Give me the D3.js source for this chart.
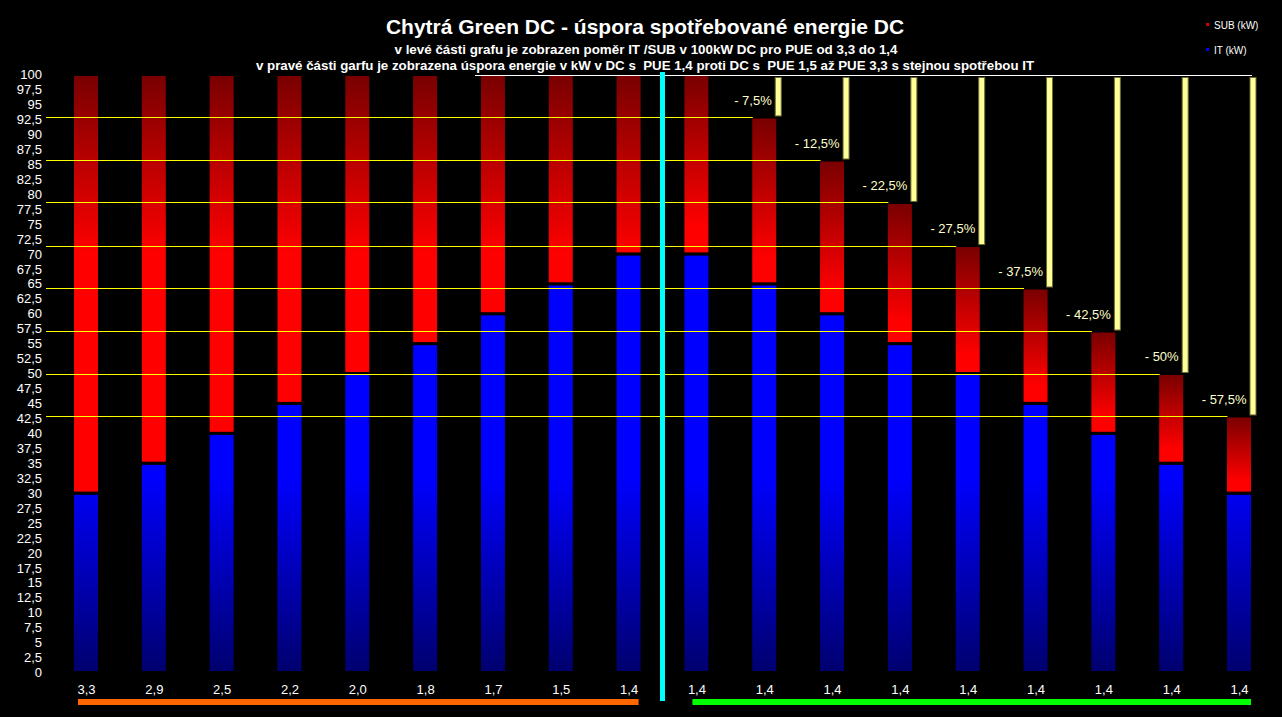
<!DOCTYPE html>
<html>
<head>
<meta charset="utf-8">
<script src="https://cdn.jsdelivr.net/npm/d3@7"></script>
<style>
html,body{margin:0;padding:0;background:#000;}
svg{display:block;}
text{font-family:Arial,"Liberation Sans",sans-serif;}
</style>
</head>
<body>
<svg id="chart" width="1282" height="717"></svg>
<script>
// ---- data ----
const categories = ["3,3","2,9","2,5","2,2","2,0","1,8","1,7","1,5","1,4","1,4","1,4","1,4","1,4","1,4","1,4","1,4","1,4","1,4"];
const itValues  = [30,35,40,45,50,55,60,65,70, 70,65,60,55,50,45,40,35,30];
const subValues = [70,65,60,55,50,45,40,35,30, 30,27.9,25.7,23.6,21.4,19.3,17.1,15,12.9];
const savingLabels = ["","","","","","","","","","","- 7,5%","- 12,5%","- 22,5%","- 27,5%","- 37,5%","- 42,5%","- 50%","- 57,5%"];
const yTickValues = [0,2.5,5,7.5,10,12.5,15,17.5,20,22.5,25,27.5,30,32.5,35,37.5,40,42.5,45,47.5,50,52.5,55,57.5,60,62.5,65,67.5,70,72.5,75,77.5,80,82.5,85,87.5,90,92.5,95,97.5,100];
const titleText = "Chytrá Green DC - úspora spotřebované energie DC";
const subtitle1 = "v levé části grafu je zobrazen poměr IT /SUB v 100kW DC pro PUE od 3,3 do 1,4";
const subtitle2 = "v pravé části garfu je zobrazena úspora energie v kW v DC s  PUE 1,4 proti DC s  PUE 1,5 až PUE 3,3 s stejnou spotřebou IT";
const legendItems = [{name:"SUB (kW)", color:"#cc0000"},{name:"IT (kW)", color:"#0000ff"}];
const splitIndex = 9; // first bar of the right part

// ---- layout ----
const svg = d3.select("#chart");
svg.append("rect").attr("width",1282).attr("height",717).attr("fill","#000");

const idx = d3.range(categories.length);
const x = d3.scalePoint().domain(idx).range([86, 1239]);
const y = d3.scaleLinear().domain([0,100]).range([672.5, 74.5]);
const barW = 27;

const defs = svg.append("defs");
const gBlue = defs.append("linearGradient").attr("id","gBlue")
  .attr("gradientUnits","userSpaceOnUse").attr("x1",0).attr("x2",0).attr("y1",y(33)).attr("y2",y(0));
gBlue.append("stop").attr("offset",0).attr("stop-color","#0000ff");
gBlue.append("stop").attr("offset",1).attr("stop-color","#00006e");

const gRedL = defs.append("linearGradient").attr("id","gRedL")
  .attr("gradientUnits","userSpaceOnUse").attr("x1",0).attr("x2",0).attr("y1",y(100)).attr("y2",y(70));
gRedL.append("stop").attr("offset",0).attr("stop-color","#780000");
gRedL.append("stop").attr("offset",1).attr("stop-color","#ff0000");

const gRedR = defs.append("linearGradient").attr("id","gRedR")
  .attr("x1",0).attr("x2",0).attr("y1",0).attr("y2",1);
gRedR.append("stop").attr("offset",0).attr("stop-color","#780000");
gRedR.append("stop").attr("offset",0.85).attr("stop-color","#ff0000");
gRedR.append("stop").attr("offset",1).attr("stop-color","#ff0000");

// bars
const bars = svg.append("g");
bars.selectAll("rect.it").data(idx).join("rect").attr("class","it")
  .attr("x", i => x(i)-barW/2).attr("width", barW)
  .attr("y", i => y(itValues[i])).attr("height", i => y(0)-y(itValues[i]))
  .attr("fill","url(#gBlue)").attr("stroke","#000").attr("stroke-width",3);
bars.selectAll("rect.sub").data(idx).join("rect").attr("class","sub")
  .attr("x", i => x(i)-barW/2).attr("width", barW)
  .attr("y", i => y(itValues[i]+subValues[i])).attr("height", i => y(itValues[i])-y(itValues[i]+subValues[i]))
  .attr("fill", i => i < splitIndex ? "url(#gRedL)" : "url(#gRedR)")
  .attr("stroke","#000").attr("stroke-width",3);

// reference lines at the right-part bar tops
const rightIdx = idx.filter(i => i > splitIndex);
svg.append("g").selectAll("line").data(rightIdx).join("line")
  .attr("x1", 46).attr("x2", i => x(i)-barW/2+2)
  .attr("y1", i => Math.round(y(itValues[i]+subValues[i]))+0.5)
  .attr("y2", i => Math.round(y(itValues[i]+subValues[i]))+0.5)
  .attr("stroke","#ffff00").attr("stroke-width",1);
// top white line
svg.append("line").attr("x1",475).attr("x2", x(categories.length-1)+13)
  .attr("y1", Math.round(y(100))+0.5).attr("y2", Math.round(y(100))+0.5)
  .attr("stroke","#ffffff").attr("stroke-width",1);

// saving bars (yellow) and labels
const sav = svg.append("g");
sav.selectAll("rect").data(rightIdx).join("rect")
  .attr("x", i => x(i)+barW/2-2.5).attr("width",6)
  .attr("y", y(100)+3).attr("height", i => y(itValues[i]+subValues[i]) - y(100) - 4)
  .attr("fill","#ffff99").attr("stroke","#6b6b35").attr("stroke-width",1);
sav.selectAll("text").data(rightIdx).join("text")
  .attr("x", i => x(i)+barW/2-6).attr("y", i => y(itValues[i]+subValues[i]) - 17)
  .attr("dy","0.35em").attr("text-anchor","end")
  .attr("fill","#ffffcc").attr("font-size",13)
  .text(i => savingLabels[i]);

// divider
svg.append("rect").attr("x", (x(splitIndex-1)+x(splitIndex))/2 - 2.5).attr("width",5)
  .attr("y",72).attr("height",629).attr("fill","#00ffff");

// bottom colored lines
svg.append("rect").attr("x", x(0)-8).attr("width", x(splitIndex-1)+10-(x(0)-8))
  .attr("y",699).attr("height",6).attr("fill","#ff6600");
svg.append("rect").attr("x", x(splitIndex)-4).attr("width", x(categories.length-1)+12-(x(splitIndex)-4))
  .attr("y",699).attr("height",6).attr("fill","#00ff00");

// axes
const yAxis = d3.axisLeft(y).tickValues(yTickValues).tickSize(0).tickPadding(4)
  .tickFormat(d => String(d).replace(".", ","));
const gy = svg.append("g").attr("transform","translate(46,0)").call(yAxis);
gy.select(".domain").remove();
gy.selectAll("text").attr("fill","#fff").attr("font-size",13).attr("font-family","Arial, 'Liberation Sans', sans-serif");

const xAxis = d3.axisBottom(x).tickSize(0).tickPadding(0).tickFormat(i => categories[i]);
const gx = svg.append("g").attr("transform","translate(0,685)").call(xAxis);
gx.select(".domain").remove();
gx.selectAll("text").attr("fill","#fff").attr("font-size",13).attr("font-family","Arial, 'Liberation Sans', sans-serif");

// titles
svg.append("text").attr("x",645).attr("y",34).attr("text-anchor","middle")
  .attr("fill","#fff").attr("font-size",21).attr("font-weight","bold").text(titleText);
svg.append("text").attr("x",646).attr("y",54).attr("text-anchor","middle")
  .attr("fill","#fff").attr("font-size",13.4).attr("font-weight","bold").text(subtitle1);
svg.append("text").attr("x",645).attr("y",70).attr("text-anchor","middle")
  .attr("fill","#fff").attr("font-size",13.3).attr("font-weight","bold").attr("xml:space","preserve")
  .style("white-space","pre").text(subtitle2);

// legend
const lg = svg.append("g");
legendItems.forEach((d,k) => {
  lg.append("rect").attr("x",1206).attr("y",23 + k*25).attr("width",3).attr("height",3).attr("fill",d.color);
  lg.append("text").attr("x",1214).attr("y",25 + k*25).attr("dy","0.35em")
    .attr("fill","#fff").attr("font-size",10).text(d.name);
});
</script>
</body>
</html>
